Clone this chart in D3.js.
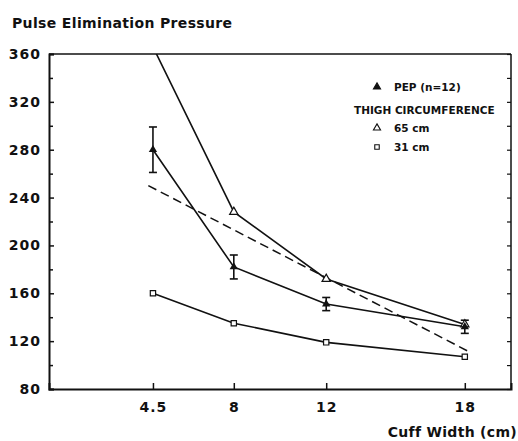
<!DOCTYPE html>
<html><head><meta charset="utf-8">
<script src="https://cdn.jsdelivr.net/npm/d3@7"></script>
<style>
body{margin:0;background:#fff;}
text{font-family:"DejaVu Sans",sans-serif;font-weight:bold;fill:#111;}
</style></head>
<body><svg id="c" width="518" height="441"></svg>
<script>
// ---- data ----
const cuffWidths = [4.5, 8, 12, 18];
const pepMean = [280, 182, 151, 132];
const pepErr = [19, 10, 5.5, 5.5];
const thigh65 = [366, 228, 172, 134];
const thigh31 = [160, 135, 119, 107];
const regressionX = [4.3, 18.2];
const regressionY = [250, 111];
const yMajorTicks = [80, 120, 160, 200, 240, 280, 320, 360];
const yMinorTicks = [100, 140, 180, 220, 260, 300, 340];
const title = "Pulse Elimination Pressure";
const xTitle = "Cuff Width (cm)";

const svg = d3.select("#c");
const L = 49, R = 511, T = 54, B = 389;
const x = d3.scaleLinear().domain([0, 20]).range([L, R]);
const y = d3.scaleLinear().domain([80, 360]).range([B, T]);

svg.append("defs").append("clipPath").attr("id", "clip")
  .append("rect").attr("x", L).attr("y", T).attr("width", R - L).attr("height", B - T);

// frame
svg.append("line").attr("x1", L).attr("x2", R).attr("y1", T).attr("y2", T).attr("stroke", "#111").attr("stroke-width", 1.5);
svg.append("line").attr("x1", R).attr("x2", R).attr("y1", T).attr("y2", B).attr("stroke", "#111").attr("stroke-width", 1.5);

// left axis
const yAxis = d3.axisLeft(y).tickValues(yMajorTicks).tickSize(-5).tickPadding(8).tickFormat(d3.format("d"));
const gy = svg.append("g").attr("transform", `translate(${L},0)`).call(yAxis);
gy.select(".domain").attr("stroke", "#111").attr("stroke-width", 2);
gy.selectAll(".tick line").attr("stroke", "#111").attr("stroke-width", 1.5);
gy.selectAll(".tick text").style("font-size", "14px").style("letter-spacing", "1px").attr("fill", "#111");
const gyMinor = svg.append("g").attr("transform", `translate(${L},0)`)
  .call(d3.axisLeft(y).tickValues(yMinorTicks).tickSize(-4).tickFormat(""));
gyMinor.select(".domain").remove();
gyMinor.selectAll(".tick line").attr("stroke", "#111").attr("stroke-width", 1.5);

// right axis ticks
const gr = svg.append("g").attr("transform", `translate(${R},0)`)
  .call(d3.axisRight(y).tickValues(yMajorTicks.concat(yMinorTicks)).tickSize(-4).tickFormat(""));
gr.select(".domain").remove();
gr.selectAll(".tick line").attr("stroke", "#111").attr("stroke-width", 1.2);

// bottom axis
const xAxis = d3.axisBottom(x).tickValues(cuffWidths).tickSize(-6).tickPadding(13).tickFormat(d => d);
const gx = svg.append("g").attr("transform", `translate(0,${B})`).call(xAxis);
gx.select(".domain").attr("stroke", "#111").attr("stroke-width", 2);
gx.selectAll(".tick line").attr("stroke", "#111").attr("stroke-width", 1.5);
gx.selectAll(".tick text").style("font-size", "14px").style("letter-spacing", "1px").attr("fill", "#111");

// titles
svg.append("text").attr("x", 12).attr("y", 28).style("font-size", "14px").style("letter-spacing", "0.35px").text(title);
svg.append("text").attr("x", 517).attr("y", 437).attr("text-anchor", "end").style("font-size", "14px").style("letter-spacing", "0.3px").text(xTitle);

const plot = svg.append("g").attr("clip-path", "url(#clip)");
const line = d3.line().x(d => x(d[0])).y(d => y(d[1]));

function series(vals) { return cuffWidths.map((c, i) => [c, vals[i]]); }

// regression dashed
plot.append("path").datum(regressionX.map((v, i) => [v, regressionY[i]]))
  .attr("d", line)
  .attr("fill", "none").attr("stroke", "#111").attr("stroke-width", 1.5).attr("stroke-dasharray", "9,5");

[pepMean, thigh65, thigh31].forEach(v => {
  plot.append("path").datum(series(v)).attr("d", line)
    .attr("fill", "none").attr("stroke", "#111").attr("stroke-width", 1.6);
});

// error bars
const eb = svg.append("g");
cuffWidths.forEach((c, i) => {
  const cx = x(c), y1 = y(pepMean[i] + pepErr[i]), y2 = y(pepMean[i] - pepErr[i]);
  eb.append("line").attr("x1", cx).attr("x2", cx).attr("y1", y1).attr("y2", y2).attr("stroke", "#111").attr("stroke-width", 1.6);
  [y1, y2].forEach(yy => eb.append("line").attr("x1", cx - 4).attr("x2", cx + 4).attr("y1", yy).attr("y2", yy).attr("stroke", "#111").attr("stroke-width", 1.6));
});

const triSym = d3.symbol().type(d3.symbolTriangle).size(30);
const sqSym = d3.symbol().type(d3.symbolSquare).size(28);

// markers
const mk = svg.append("g").attr("clip-path", "url(#clip)");
series(thigh65).forEach(d => mk.append("path").attr("d", triSym()).attr("transform", `translate(${x(d[0])},${y(d[1])})`)
  .attr("fill", "#fff").attr("stroke", "#111").attr("stroke-width", 1.2));
series(thigh31).forEach(d => mk.append("path").attr("d", sqSym()).attr("transform", `translate(${x(d[0])},${y(d[1])})`)
  .attr("fill", "#fff").attr("stroke", "#111").attr("stroke-width", 1.2));
series(pepMean).forEach(d => mk.append("path").attr("d", triSym()).attr("transform", `translate(${x(d[0])},${y(d[1])})`)
  .attr("fill", "#111"));

// legend
const lg = svg.append("g");
const legItems = [
  {sym: "tri", fill: "#111", label: "PEP (n=12)", ly: 87},
  {sym: null, label: "THIGH CIRCUMFERENCE", ly: 110},
  {sym: "tri", fill: "#fff", label: "65 cm", ly: 128},
  {sym: "sq", fill: "#fff", label: "31 cm", ly: 147}
];
legItems.forEach(it => {
  if (it.sym) {
    lg.append("path").attr("d", it.sym === "tri" ? d3.symbol().type(d3.symbolTriangle).size(22)() : d3.symbol().type(d3.symbolSquare).size(20)())
      .attr("transform", `translate(377,${it.ly})`).attr("fill", it.fill).attr("stroke", "#111").attr("stroke-width", 1.1);
    lg.append("text").attr("x", 394).attr("y", it.ly + 4).style("font-size", "10.5px").text(it.label);
  } else {
    lg.append("text").attr("x", 354).attr("y", it.ly + 4).style("font-size", "10.5px").text(it.label);
  }
});
</script></body></html>
